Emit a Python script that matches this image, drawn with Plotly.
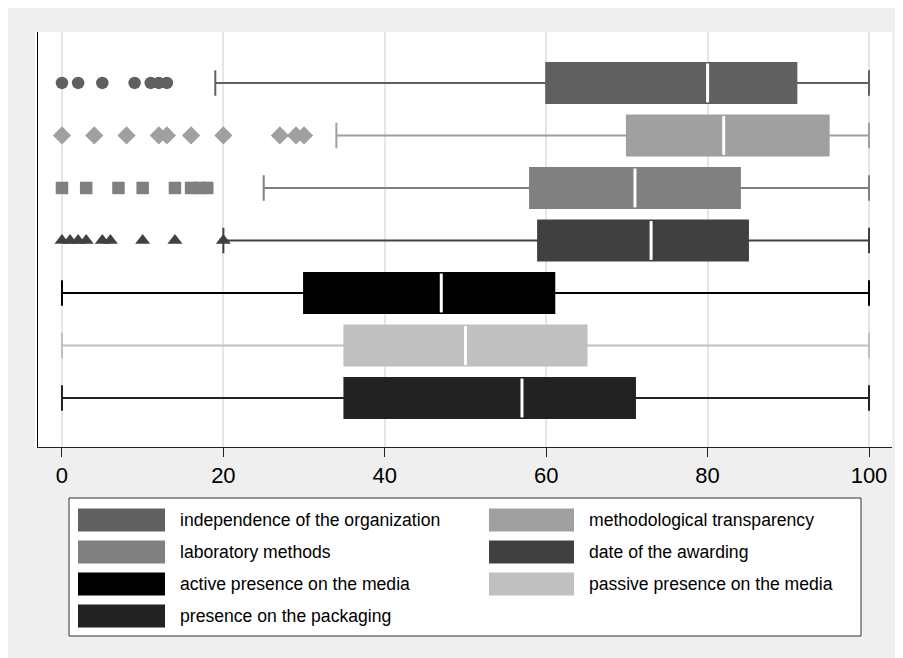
import plotly.graph_objects as go

# ---- data ----
labels = [
    "independence of the organization",
    "methodological transparency",
    "laboratory methods",
    "date of the awarding",
    "active presence on the media",
    "passive presence on the media",
    "presence on the packaging",
]
colors = ["#606060", "#a0a0a0", "#808080", "#404040", "#000000", "#c0c0c0", "#222222"]
q1 = [60, 70, 58, 59, 30, 35, 35]
median = [80, 82, 71, 73, 47, 50, 57]
q3 = [91, 95, 84, 85, 61, 65, 71]
lower_fence = [19, 34, 25, 20, 0, 0, 0]
upper_fence = [100, 100, 100, 100, 100, 100, 100]

out_independence = [0, 2, 5, 9, 11, 12, 13]
out_method = [0, 4, 8, 12, 13, 16, 20, 27, 29, 30]
out_lab = [0, 3, 7, 10, 14, 16, 17, 18]
out_date = [0, 1, 2, 3, 5, 6, 10, 14, 20]
outliers = [out_independence, out_method, out_lab, out_date, [], [], []]
symbols = ["circle", "diamond", "square", "triangle-up", "circle", "circle", "circle"]
sizes = [12.5, 14, 12.5, 13, 12, 12, 12]

x_ticks = [0, 20, 40, 60, 80, 100]

# ---- figure geometry (page offset of 8px from the default body margin) ----
OFF = 8
W, H = 903 - OFF, 658 - OFF
L, R, T, B = 38 - OFF, 11, 32 - OFF, 211
PW, PH = W - L - R, H - T - B

def px(x):  # window pixel -> paper
    return (x - OFF - L) / PW

def py(y):
    return (H - B - (y - OFF)) / PH

n = len(labels)
positions = [n - i for i in range(n)]
box_w = 0.76

fig = go.Figure()
for i in range(n):
    pos = positions[i]
    fig.add_trace(go.Box(
        y=[pos], q1=[q1[i]], median=[median[i]], q3=[q3[i]],
        lowerfence=[lower_fence[i]], upperfence=[upper_fence[i]],
        orientation="h", boxpoints=False, width=box_w,
        fillcolor=colors[i], line=dict(color=colors[i], width=2),
        whiskerwidth=0.64, showlegend=False, hoverinfo="skip",
    ))
    fig.add_trace(go.Scatter(
        x=[median[i], median[i]], y=[pos - box_w / 2 + 0.01, pos + box_w / 2 - 0.01],
        mode="lines", line=dict(color="white", width=3),
        showlegend=False, hoverinfo="skip",
    ))
    if outliers[i]:
        fig.add_trace(go.Scatter(
            x=outliers[i], y=[pos] * len(outliers[i]), mode="markers",
            marker=dict(symbol=symbols[i], size=sizes[i], color=colors[i], line=dict(width=0)),
            showlegend=False, hoverinfo="skip",
        ))

shapes = [
    # small white strip left of y axis
    dict(type="rect", xref="paper", yref="paper", x0=px(35), x1=px(38.5), y0=0, y1=1,
         fillcolor="white", line=dict(width=0), layer="below"),
    # legend frame
    dict(type="rect", xref="paper", yref="paper", x0=px(69), x1=px(861), y0=py(636), y1=py(498),
         fillcolor="white", line=dict(color="#333333", width=1)),
]
annotations = []
row_y = [520, 552, 584, 616]
col_sw = [(78, 165), (489, 574)]
col_tx = [178, 587]
for i in range(n):
    r, c = i // 2, i % 2
    yc = row_y[r]
    shapes.append(dict(type="rect", xref="paper", yref="paper",
                       x0=px(col_sw[c][0]), x1=px(col_sw[c][1]),
                       y0=py(yc + 11.5), y1=py(yc - 11.5),
                       fillcolor=colors[i], line=dict(width=0)))
    annotations.append(dict(xref="paper", yref="paper", x=px(col_tx[c]), y=py(yc),
                            text=labels[i], showarrow=False, xanchor="left", yanchor="middle",
                            font=dict(size=17.6, color="black")))

fig.update_layout(
    width=W, height=H,
    margin=dict(l=L, r=R, t=T, b=B, pad=0),
    paper_bgcolor="#efefef", plot_bgcolor="white",
    font=dict(family="Liberation Sans, Arial, sans-serif", color="black"),
    shapes=shapes, annotations=annotations, showlegend=False,
    xaxis=dict(range=[-2.97, 102.85], tickvals=x_ticks, ticktext=[str(t) for t in x_ticks],
               showgrid=True, gridcolor="#e6e6e6", gridwidth=2, zeroline=False,
               showline=True, linecolor="#222222", linewidth=1,
               ticks="outside", ticklen=9, tickcolor="#222222", tickwidth=1,
               tickfont=dict(size=22, color="black")),
    yaxis=dict(range=[0.067, 7.97], showticklabels=False, showgrid=False, zeroline=False,
               showline=True, linecolor="#000000", linewidth=1, ticks=""),
)

fig.write_html("out.html")
